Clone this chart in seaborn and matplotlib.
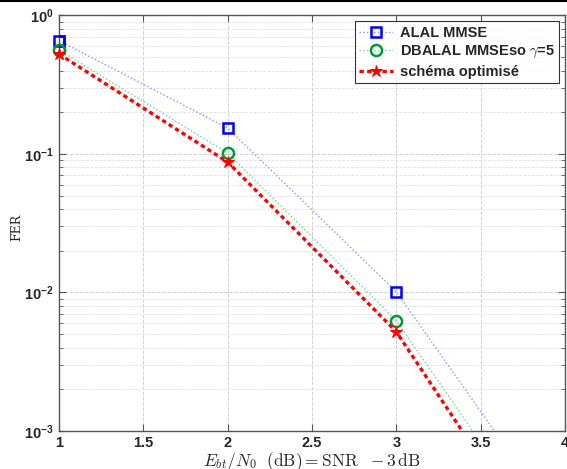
import numpy as np
import pandas as pd
import seaborn as sns
import matplotlib.pyplot as plt
from matplotlib.ticker import LogLocator, NullFormatter

# values
snr = [1, 2, 3, 4]
fer_alal = [0.658, 0.154, 0.0101, 1.9e-4]
fer_dbalal = [0.564, 0.1016, 0.00626, 1.1e-4]
fer_opt = [0.527, 0.0875, 0.00521, 7.6e-5]
labels = ['ALAL MMSE', r'DBALAL MMSEso $\gamma$=5', 'schéma optimisé']

sns.set_style('ticks')
plt.rcParams['font.family'] = ['Liberation Sans', 'DejaVu Sans']
plt.rcParams['mathtext.fontset'] = 'cm'

fig = plt.figure(figsize=(5.67, 4.69), dpi=100)
ax = fig.add_axes([0.104, 0.081, 0.8925, 0.886])

df = pd.DataFrame({'snr': snr, 'alal': fer_alal, 'dbalal': fer_dbalal, 'opt': fer_opt})

sns.lineplot(data=df, x='snr', y='alal', ax=ax, color='#8f8fff', lw=1.0,
             linestyle=':', marker='s', ms=7, mfc='none', mec='#0000ff', mew=1.8,
             label=labels[0])
sns.lineplot(data=df, x='snr', y='dbalal', ax=ax, color='#7fcf8f', lw=1.0,
             linestyle=':', marker='o', ms=8, mfc='none', mec='#009933', mew=1.8,
             label=labels[1])
sns.lineplot(data=df, x='snr', y='opt', ax=ax, color='#ff0000', lw=2.4,
             linestyle=(0, (1.3, 1.0)), marker='*', ms=9, mfc='#ff0000', mec='#ff0000',
             label=labels[2])

ax.set_yscale('log')
ax.set_xlim(1, 4)
ax.set_ylim(1e-3, 1)

# let the markers on the left edge show whole, but keep lines inside
for ln, y0 in zip(ax.get_lines()[:3], [fer_alal[0], fer_dbalal[0], fer_opt[0]]):
    ax.plot([snr[0]], [y0], linestyle='none', marker=ln.get_marker(), ms=ln.get_markersize(),
            mfc=ln.get_markerfacecolor(), mec=ln.get_markeredgecolor(),
            mew=ln.get_markeredgewidth(), clip_on=False, zorder=5)

ax.set_xticks([1, 1.5, 2, 2.5, 3, 3.5, 4])
ax.set_xticklabels(['1', '1.5', '2', '2.5', '3', '3.5', '4'])
ax.yaxis.set_minor_locator(LogLocator(base=10, subs=np.arange(2, 10)))
ax.yaxis.set_minor_formatter(NullFormatter())

ax.grid(True, which='major', linestyle='--', color='#d0d0d0', lw=0.7)
ax.grid(True, which='minor', axis='y', linestyle='--', color='#e0e0e0', lw=0.6)
ax.tick_params(which='both', direction='in', top=True, right=True, color='#555555')
ax.tick_params(which='major', length=5, labelsize=10.5)
ax.tick_params(which='minor', length=3)
for lab in ax.get_xticklabels() + ax.get_yticklabels():
    lab.set_fontweight('bold')
for sp in ax.spines.values():
    sp.set_color('#555555')
    sp.set_linewidth(1.0)

ax.set_xlabel(r'$E_{bt}/N_0\ \ \mathrm{(dB)} = \mathrm{SNR}\ \ - 3\,\mathrm{dB}$',
              fontsize=12.5, labelpad=0)
ax.set_ylabel('FER', fontsize=9, family='DejaVu Serif')
ax.yaxis.set_label_coords(-0.07, 0.49)

leg = ax.legend(handles=ax.get_lines()[:3], labels=labels, loc='upper right',
                fontsize=10.5, frameon=True, fancybox=False,
                edgecolor='black', borderpad=0.3, labelspacing=0.3, handlelength=2.3,
                handletextpad=0.5, borderaxespad=0.4)
leg.get_frame().set_linewidth(0.8)
for t in leg.get_texts():
    t.set_fontweight('bold')

fig.add_artist(plt.Line2D([0, 1], [0.997, 0.997], color='black', lw=1.5))
fig.savefig('out.png', dpi=100)
